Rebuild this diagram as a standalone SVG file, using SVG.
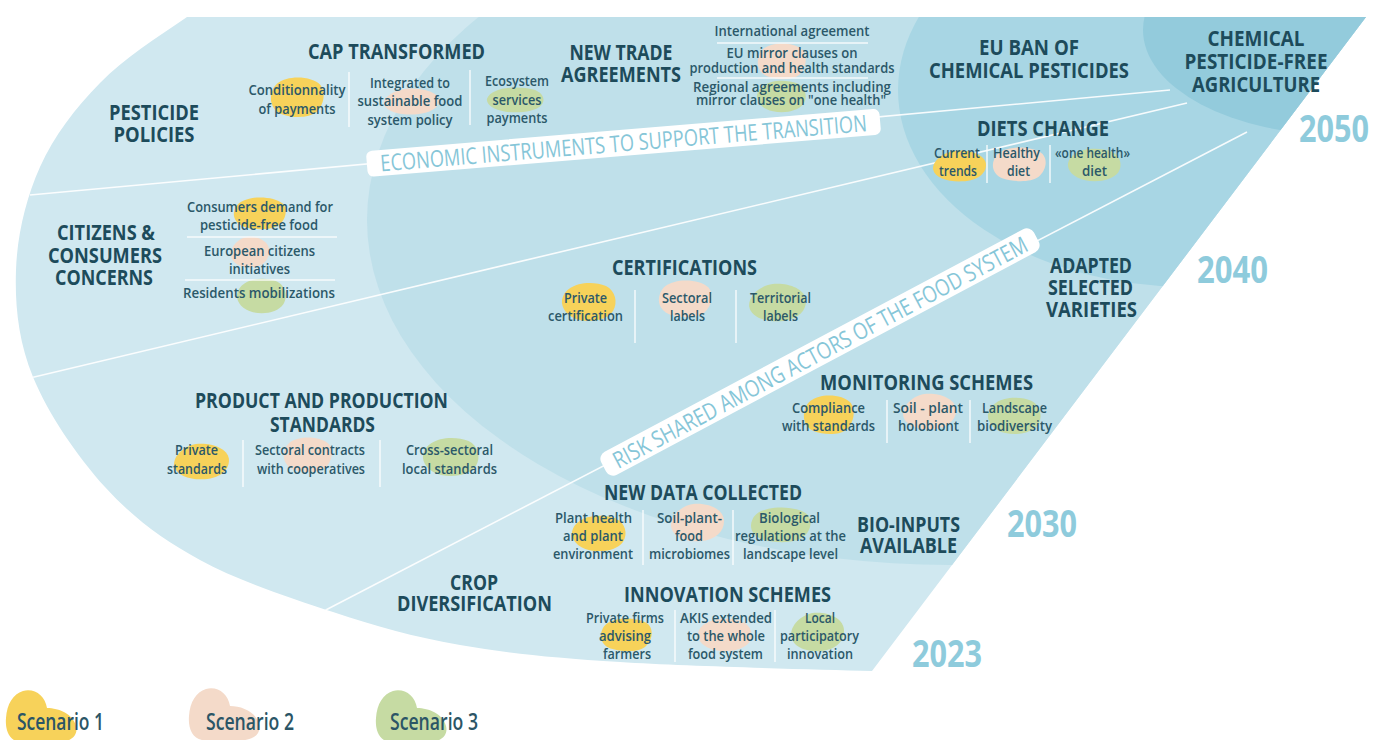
<svg xmlns="http://www.w3.org/2000/svg" width="1381" height="740" viewBox="0 0 1381 740">
<style>
.t{font-family:"Open Sans","Liberation Sans",sans-serif;font-weight:700;font-size:21px;fill:#1d4b5b;text-anchor:middle}
.i{font-family:"Open Sans","Liberation Sans",sans-serif;font-weight:600;font-size:14.5px;fill:#2b5869;text-anchor:middle}
.s{font-size:13.5px}
.yr{font-family:"Open Sans","Liberation Sans",sans-serif;font-weight:700;font-size:37px;fill:#8ecbdc}
.bn{font-family:"Open Sans","Liberation Sans",sans-serif;font-weight:400;font-size:23px;fill:#86c6d8;text-anchor:middle}
.lg{font-family:"Open Sans","Liberation Sans",sans-serif;font-weight:600;font-size:24px;fill:#2b5566}
.sep{stroke:#ffffff;stroke-width:1.5;opacity:.85}
.div{stroke:#ffffff;stroke-width:1.6;fill:none;opacity:.9}
.y{fill:#f7d25a}.p{fill:#f4dac9}.g{fill:#c6dba3}
</style>
<defs>
<clipPath id="fan"><path d="M187,17 C157,37.5 124.5,58 100,83 C75.5,108 54,135.8 40,167 C26,198.2 17.2,235 16,270 C14.8,305 18.2,340.8 33,377 C47.8,413.2 77.2,456.5 105,487 C132.8,517.5 162,539.2 200,560 C238,580.8 289.7,597.8 333,612 C376.3,626.2 412.2,636.7 460,645 C507.8,653.3 551.3,657.7 620,662 C688.7,666.3 808.7,669.3 872,671 L1366,17 Z"/></clipPath>
<path id="b1" d="M0.3,0.05 C0.5,-0.03 0.8,0.02 0.92,0.2 C1.02,0.38 0.98,0.68 0.85,0.85 C0.7,1.02 0.4,1.0 0.2,0.9 C0.03,0.8 -0.02,0.55 0.04,0.35 C0.08,0.18 0.17,0.1 0.3,0.05 Z"/>
<path id="b2" d="M0.45,0.02 C0.7,0.0 0.95,0.15 0.98,0.42 C1.0,0.7 0.85,0.95 0.55,0.98 C0.3,1.0 0.05,0.88 0.02,0.6 C0.0,0.35 0.2,0.05 0.45,0.02 Z"/>
<path id="b3" d="M0.15,0.15 C0.3,0.0 0.6,-0.02 0.8,0.1 C0.97,0.22 1.02,0.5 0.93,0.72 C0.82,0.95 0.55,1.02 0.32,0.95 C0.1,0.88 -0.02,0.65 0.0,0.45 C0.02,0.32 0.07,0.22 0.15,0.15 Z"/>
<path id="lb" d="M18,1 C30,-2 40,6 42,18 C54,18 68,24 71,36 C74,48 62,54 46,52 L14,52 C4,50 0,40 1,28 C2,14 8,4 18,1 Z"/>
</defs>

<g id="eras">
<g id="era-2023"><path d="M187,17 C157,37.5 124.5,58 100,83 C75.5,108 54,135.8 40,167 C26,198.2 17.2,235 16,270 C14.8,305 18.2,340.8 33,377 C47.8,413.2 77.2,456.5 105,487 C132.8,517.5 162,539.2 200,560 C238,580.8 289.7,597.8 333,612 C376.3,626.2 412.2,636.7 460,645 C507.8,653.3 551.3,657.7 620,662 C688.7,666.3 808.7,669.3 872,671 L1366,17 Z" fill="#d0e8f0"/></g>
<g clip-path="url(#fan)">
<ellipse id="era-2030" cx="950" cy="220" rx="583" ry="345" fill="#bfe0ea"/>
<ellipse id="era-2040" cx="1190" cy="90" rx="292" ry="197" fill="#a8d6e4"/>
<ellipse id="era-2050" cx="1340" cy="30" rx="197" ry="105" fill="#93cbdc"/>
</g>
</g>

<g id="connectors" clip-path="url(#fan)">
<path class="div" d="M30,195 L1170,90"/>
<path class="div" d="M30,378 L1187,103"/>
<path class="div" d="M320,613 L1247,132"/>
</g>

<g id="years">
<text class="yr" x="1299" y="142" textLength="70" lengthAdjust="spacingAndGlyphs">2050</text>
<text class="yr" x="1197" y="283" textLength="71" lengthAdjust="spacingAndGlyphs">2040</text>
<text class="yr" x="1007" y="537" textLength="70" lengthAdjust="spacingAndGlyphs">2030</text>
<text class="yr" x="912" y="667" textLength="70" lengthAdjust="spacingAndGlyphs">2023</text>
</g>

<g id="pesticide-policies">
<text class="t" x="154" y="120" textLength="90" lengthAdjust="spacingAndGlyphs">PESTICIDE</text>
<text class="t" x="154" y="142" textLength="81" lengthAdjust="spacingAndGlyphs">POLICIES</text>
</g>

<g id="cap-transformed">
<use href="#b1" class="y" transform="translate(270 77) scale(55 41)"/>
<use href="#b2" class="p" transform="translate(383 88) scale(57 27)"/>
<use href="#b3" class="g" transform="translate(487 87) scale(58 26)"/>
<text class="t" x="396.5" y="59" textLength="177" lengthAdjust="spacingAndGlyphs">CAP TRANSFORMED</text>
<text class="i" x="297" y="95" textLength="97" lengthAdjust="spacingAndGlyphs">Conditionnality</text>
<text class="i" x="297" y="114" textLength="77" lengthAdjust="spacingAndGlyphs">of payments</text>
<line class="sep" x1="349" y1="72" x2="349" y2="127"/>
<text class="i" x="410" y="88" textLength="80" lengthAdjust="spacingAndGlyphs">Integrated to</text>
<text class="i" x="410" y="106" textLength="105" lengthAdjust="spacingAndGlyphs">sustainable food</text>
<text class="i" x="410" y="125" textLength="85" lengthAdjust="spacingAndGlyphs">system policy</text>
<line class="sep" x1="470" y1="70" x2="470" y2="125"/>
<text class="i" x="517" y="86" textLength="64" lengthAdjust="spacingAndGlyphs">Ecosystem</text>
<text class="i" x="517" y="105" textLength="49" lengthAdjust="spacingAndGlyphs">services</text>
<text class="i" x="517" y="123" textLength="61" lengthAdjust="spacingAndGlyphs">payments</text>
</g>

<g id="new-trade-agreements">
<use href="#b2" class="y" clip-path="url(#fan)" transform="translate(757 10) scale(52 32)"/>
<use href="#b1" class="p" transform="translate(757 43) scale(50 37)"/>
<use href="#b3" class="g" transform="translate(757 80) scale(50 33)"/>
<text class="t" x="621" y="60" textLength="103" lengthAdjust="spacingAndGlyphs">NEW TRADE</text>
<text class="t" x="621" y="82" textLength="120" lengthAdjust="spacingAndGlyphs">AGREEMENTS</text>
<text class="i s" x="792" y="36" textLength="155" lengthAdjust="spacingAndGlyphs">International agreement</text>
<line class="sep" x1="717" y1="43" x2="868" y2="43"/>
<text class="i s" x="792" y="58" textLength="131" lengthAdjust="spacingAndGlyphs">EU mirror clauses on</text>
<text class="i s" x="792" y="73" textLength="205" lengthAdjust="spacingAndGlyphs">production and health standards</text>
<line class="sep" x1="717" y1="78" x2="868" y2="78"/>
<text class="i s" x="792" y="92" textLength="198" lengthAdjust="spacingAndGlyphs">Regional agreements including</text>
<text class="i s" x="791" y="105" textLength="190" lengthAdjust="spacingAndGlyphs">mirror clauses on "one health"</text>
</g>

<g id="eu-ban">
<text class="t" x="1029" y="55" textLength="100" lengthAdjust="spacingAndGlyphs">EU BAN OF</text>
<text class="t" x="1029" y="78" textLength="200" lengthAdjust="spacingAndGlyphs">CHEMICAL PESTICIDES</text>
</g>

<g id="pesticide-free-agriculture">
<text class="t" x="1256" y="46" textLength="97" lengthAdjust="spacingAndGlyphs">CHEMICAL</text>
<text class="t" x="1256" y="69" textLength="143" lengthAdjust="spacingAndGlyphs">PESTICIDE-FREE</text>
<text class="t" x="1256" y="92" textLength="128" lengthAdjust="spacingAndGlyphs">AGRICULTURE</text>
</g>

<g id="diets-change">
<use href="#b2" class="y" transform="translate(932 150) scale(55 32)"/>
<use href="#b1" class="p" transform="translate(992 147) scale(55 35)"/>
<use href="#b3" class="g" transform="translate(1068 148) scale(54 34)"/>
<text class="t" x="1043" y="136" textLength="132" lengthAdjust="spacingAndGlyphs">DIETS CHANGE</text>
<text class="i" x="957" y="158" textLength="46" lengthAdjust="spacingAndGlyphs">Current</text>
<text class="i" x="958" y="176" textLength="38" lengthAdjust="spacingAndGlyphs">trends</text>
<line class="sep" x1="987" y1="145" x2="987" y2="183"/>
<text class="i" x="1016.5" y="158" textLength="47" lengthAdjust="spacingAndGlyphs">Healthy</text>
<text class="i" x="1018.5" y="176" textLength="23" lengthAdjust="spacingAndGlyphs">diet</text>
<line class="sep" x1="1050" y1="145" x2="1050" y2="183"/>
<text class="i" x="1092.5" y="158" textLength="75" lengthAdjust="spacingAndGlyphs">«one health»</text>
<text class="i" x="1094.5" y="176" textLength="25" lengthAdjust="spacingAndGlyphs">diet</text>
</g>

<g id="citizens-concerns">
<use href="#b1" class="y" transform="translate(233 197) scale(54 33)"/>
<use href="#b2" class="p" transform="translate(230 236) scale(40 32)"/>
<use href="#b3" class="g" transform="translate(237 278) scale(50 36)"/>
<text class="t" x="106" y="240" textLength="98" lengthAdjust="spacingAndGlyphs">CITIZENS &amp;</text>
<text class="t" x="105" y="263" textLength="114" lengthAdjust="spacingAndGlyphs">CONSUMERS</text>
<text class="t" x="104" y="285" textLength="98" lengthAdjust="spacingAndGlyphs">CONCERNS</text>
<text class="i" x="260" y="212" textLength="146" lengthAdjust="spacingAndGlyphs">Consumers demand for</text>
<text class="i" x="259" y="230" textLength="118" lengthAdjust="spacingAndGlyphs">pesticide-free food</text>
<line class="sep" x1="187" y1="237" x2="337" y2="237"/>
<text class="i" x="259.5" y="256" textLength="111" lengthAdjust="spacingAndGlyphs">European citizens</text>
<text class="i" x="259.5" y="274" textLength="61" lengthAdjust="spacingAndGlyphs">initiatives</text>
<line class="sep" x1="185" y1="280" x2="335" y2="280"/>
<text class="i" x="259" y="298" textLength="152" lengthAdjust="spacingAndGlyphs">Residents mobilizations</text>
</g>

<g id="certifications">
<use href="#b3" class="y" transform="translate(562 282) scale(55 40)"/>
<use href="#b1" class="p" transform="translate(658 280) scale(55 38)"/>
<use href="#b2" class="g" transform="translate(748 283) scale(59 39)"/>
<text class="t" x="684.5" y="275" textLength="145" lengthAdjust="spacingAndGlyphs">CERTIFICATIONS</text>
<text class="i" x="585.5" y="303" textLength="43" lengthAdjust="spacingAndGlyphs">Private</text>
<text class="i" x="585.5" y="321" textLength="75" lengthAdjust="spacingAndGlyphs">certification</text>
<line class="sep" x1="635" y1="290" x2="635" y2="343"/>
<text class="i" x="687" y="303" textLength="50" lengthAdjust="spacingAndGlyphs">Sectoral</text>
<text class="i" x="687.5" y="321" textLength="35" lengthAdjust="spacingAndGlyphs">labels</text>
<line class="sep" x1="736" y1="290" x2="736" y2="343"/>
<text class="i" x="780.5" y="303" textLength="61" lengthAdjust="spacingAndGlyphs">Territorial</text>
<text class="i" x="780.5" y="321" textLength="35" lengthAdjust="spacingAndGlyphs">labels</text>
</g>

<g id="adapted-varieties">
<text class="t" x="1091" y="273" textLength="82" lengthAdjust="spacingAndGlyphs">ADAPTED</text>
<text class="t" x="1090.5" y="295" textLength="85" lengthAdjust="spacingAndGlyphs">SELECTED</text>
<text class="t" x="1091.5" y="317" textLength="91" lengthAdjust="spacingAndGlyphs">VARIETIES</text>
</g>

<g id="production-standards">
<use href="#b2" class="y" transform="translate(173 443) scale(57 37)"/>
<use href="#b1" class="p" transform="translate(283 437) scale(50 36)"/>
<use href="#b3" class="g" transform="translate(423 437) scale(57 40)"/>
<text class="t" x="321.5" y="408" textLength="253" lengthAdjust="spacingAndGlyphs">PRODUCT AND PRODUCTION</text>
<text class="t" x="322.5" y="432" textLength="105" lengthAdjust="spacingAndGlyphs">STANDARDS</text>
<text class="i" x="196.5" y="455" textLength="43" lengthAdjust="spacingAndGlyphs">Private</text>
<text class="i" x="197" y="474" textLength="60" lengthAdjust="spacingAndGlyphs">standards</text>
<line class="sep" x1="243" y1="440" x2="243" y2="487"/>
<text class="i" x="310" y="455" textLength="110" lengthAdjust="spacingAndGlyphs">Sectoral contracts</text>
<text class="i" x="311" y="474" textLength="108" lengthAdjust="spacingAndGlyphs">with cooperatives</text>
<line class="sep" x1="380" y1="440" x2="380" y2="487"/>
<text class="i" x="449.5" y="455" textLength="87" lengthAdjust="spacingAndGlyphs">Cross-sectoral</text>
<text class="i" x="449.5" y="474" textLength="95" lengthAdjust="spacingAndGlyphs">local standards</text>
</g>

<g id="monitoring-schemes">
<use href="#b1" class="y" transform="translate(803 395) scale(52 40)"/>
<use href="#b2" class="p" transform="translate(902 393) scale(55 37)"/>
<use href="#b3" class="g" transform="translate(988 397) scale(54 38)"/>
<text class="t" x="926.5" y="390" textLength="213" lengthAdjust="spacingAndGlyphs">MONITORING SCHEMES</text>
<text class="i" x="828.5" y="413" textLength="73" lengthAdjust="spacingAndGlyphs">Compliance</text>
<text class="i" x="828.5" y="431" textLength="93" lengthAdjust="spacingAndGlyphs">with standards</text>
<line class="sep" x1="887" y1="400" x2="887" y2="443"/>
<text class="i" x="928" y="413" textLength="70" lengthAdjust="spacingAndGlyphs">Soil - plant</text>
<text class="i" x="928.5" y="431" textLength="61" lengthAdjust="spacingAndGlyphs">holobiont</text>
<line class="sep" x1="970" y1="400" x2="970" y2="443"/>
<text class="i" x="1014.5" y="413" textLength="65" lengthAdjust="spacingAndGlyphs">Landscape</text>
<text class="i" x="1014.5" y="431" textLength="75" lengthAdjust="spacingAndGlyphs">biodiversity</text>
</g>

<g id="new-data-collected">
<use href="#b3" class="y" transform="translate(572 515) scale(55 37)"/>
<use href="#b2" class="p" transform="translate(670 503) scale(55 39)"/>
<use href="#b1" class="g" transform="translate(750 507) scale(62 36)"/>
<text class="t" x="703" y="500" textLength="198" lengthAdjust="spacingAndGlyphs">NEW DATA COLLECTED</text>
<text class="i" x="593.5" y="523" textLength="77" lengthAdjust="spacingAndGlyphs">Plant health</text>
<text class="i" x="593" y="541" textLength="60" lengthAdjust="spacingAndGlyphs">and plant</text>
<text class="i" x="593" y="559" textLength="80" lengthAdjust="spacingAndGlyphs">environment</text>
<line class="sep" x1="643" y1="510" x2="643" y2="565"/>
<text class="i" x="689.5" y="523" textLength="65" lengthAdjust="spacingAndGlyphs">Soil-plant-</text>
<text class="i" x="689" y="541" textLength="28" lengthAdjust="spacingAndGlyphs">food</text>
<text class="i" x="689.5" y="559" textLength="81" lengthAdjust="spacingAndGlyphs">microbiomes</text>
<line class="sep" x1="733" y1="510" x2="733" y2="565"/>
<text class="i" x="789.5" y="523" textLength="61" lengthAdjust="spacingAndGlyphs">Biological</text>
<text class="i" x="790.5" y="541" textLength="111" lengthAdjust="spacingAndGlyphs">regulations at the</text>
<text class="i" x="790.5" y="559" textLength="95" lengthAdjust="spacingAndGlyphs">landscape level</text>
</g>

<g id="bio-inputs">
<text class="t" x="908.5" y="532" textLength="103" lengthAdjust="spacingAndGlyphs">BIO-INPUTS</text>
<text class="t" x="908.5" y="553" textLength="97" lengthAdjust="spacingAndGlyphs">AVAILABLE</text>
</g>

<g id="crop-diversification">
<text class="t" x="474" y="590" textLength="48" lengthAdjust="spacingAndGlyphs">CROP</text>
<text class="t" x="474.5" y="611" textLength="155" lengthAdjust="spacingAndGlyphs">DIVERSIFICATION</text>
</g>

<g id="innovation-schemes">
<use href="#b1" class="y" transform="translate(600 618) scale(53 34)"/>
<use href="#b3" class="p" transform="translate(698 618) scale(55 34)"/>
<use href="#b2" class="g" transform="translate(790 612) scale(55 40)"/>
<text class="t" x="727.5" y="602" textLength="207" lengthAdjust="spacingAndGlyphs">INNOVATION SCHEMES</text>
<text class="i" x="625" y="623" textLength="78" lengthAdjust="spacingAndGlyphs">Private firms</text>
<text class="i" x="625" y="641" textLength="52" lengthAdjust="spacingAndGlyphs">advising</text>
<text class="i" x="627" y="659" textLength="48" lengthAdjust="spacingAndGlyphs">farmers</text>
<line class="sep" x1="675" y1="610" x2="675" y2="662"/>
<text class="i" x="726" y="623" textLength="92" lengthAdjust="spacingAndGlyphs">AKIS extended</text>
<text class="i" x="726" y="641" textLength="78" lengthAdjust="spacingAndGlyphs">to the whole</text>
<text class="i" x="725.5" y="659" textLength="75" lengthAdjust="spacingAndGlyphs">food system</text>
<line class="sep" x1="775" y1="610" x2="775" y2="662"/>
<text class="i" x="820" y="623" textLength="30" lengthAdjust="spacingAndGlyphs">Local</text>
<text class="i" x="819.5" y="641" textLength="79" lengthAdjust="spacingAndGlyphs">participatory</text>
<text class="i" x="820" y="659" textLength="66" lengthAdjust="spacingAndGlyphs">innovation</text>
</g>

<g id="banner-economic" transform="translate(623.5 142.8) rotate(-4.74)">
<rect x="-257.5" y="-13" width="515" height="26" rx="6" fill="#ffffff"/>
<text class="bn" x="0" y="8.5" textLength="488" lengthAdjust="spacingAndGlyphs">ECONOMIC INSTRUMENTS TO SUPPORT THE TRANSITION</text>
</g>

<g id="banner-risk" transform="translate(820 352) rotate(-28)">
<rect x="-245" y="-13" width="490" height="26" rx="8" fill="#ffffff"/>
<text class="bn" x="0" y="8.5" textLength="466" lengthAdjust="spacingAndGlyphs">RISK SHARED AMONG ACTORS OF THE FOOD SYSTEM</text>
</g>

<g id="legend">
<use href="#lb" class="y" transform="translate(5 690)"/>
<text class="lg" x="17" y="730" textLength="87" lengthAdjust="spacingAndGlyphs">Scenario 1</text>
<use href="#lb" class="p" transform="translate(188 688)"/>
<text class="lg" x="206" y="730" textLength="88" lengthAdjust="spacingAndGlyphs">Scenario 2</text>
<use href="#lb" class="g" transform="translate(375 690)"/>
<text class="lg" x="390" y="730" textLength="88" lengthAdjust="spacingAndGlyphs">Scenario 3</text>
</g>
</svg>
